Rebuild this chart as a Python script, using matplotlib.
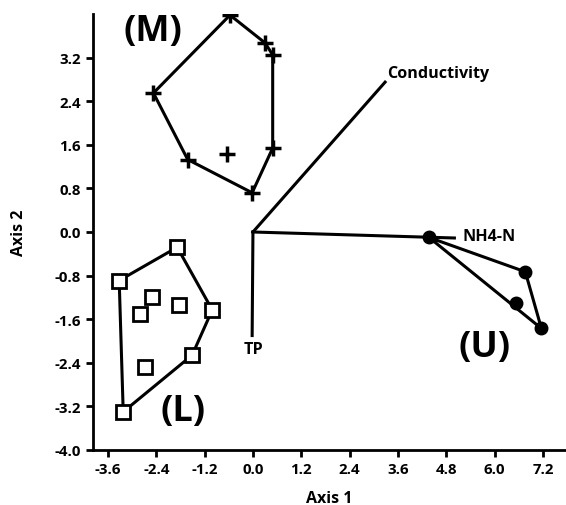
import matplotlib
matplotlib.use("Agg")
import matplotlib.pyplot as plt
import numpy as np

plt.rcParams['font.family'] = ['Open Sans', 'DejaVu Sans']

# Group M (plus markers)
m_x = [-0.57, 0.30, 0.49, 0.49, -0.02, -1.62, -2.47, -0.65]
m_y = [3.98, 3.47, 3.25, 1.54, 0.72, 1.33, 2.55, 1.43]
m_hull = [0, 1, 2, 3, 4, 5, 6, 0]

# Group L (open squares)
l_x = [-1.88, -1.01, -1.51, -3.22, -3.32, -2.50, -2.80, -1.84, -2.68]
l_y = [-0.28, -1.43, -2.26, -3.30, -0.89, -1.19, -1.50, -1.34, -2.47]
l_hull = [0, 1, 2, 3, 4, 0]

# Group U (filled circles)
u_x = [4.37, 6.76, 7.16, 6.54]
u_y = [-0.10, -0.73, -1.77, -1.31]
u_hull = [0, 1, 2, 0]

# Environmental vectors
vec_names = ["Conductivity", "NH4-N", "TP"]
vec_x = [3.28, 5.00, -0.02]
vec_y = [2.75, -0.11, -1.90]
vec_lx = [3.33, 5.19, 0.0]
vec_ly = [2.92, -0.08, -2.15]
vec_ha = ['left', 'left', 'center']

group_labels = ["(M)", "(L)", "(U)"]
group_lx = [-2.48, -1.74, 5.76]
group_ly = [3.68, -3.29, -2.11]

xticks = [-3.6, -2.4, -1.2, 0.0, 1.2, 2.4, 3.6, 4.8, 6.0, 7.2]
yticks = [-4.0, -3.2, -2.4, -1.6, -0.8, 0.0, 0.8, 1.6, 2.4, 3.2]

fig = plt.figure(figsize=(5.66, 5.06), dpi=100)
ax = fig.add_axes([93/566, 55/506, 1 - 93/566, (451-15)/506])

lw = 2.2
# hulls
ax.plot([m_x[i] for i in m_hull], [m_y[i] for i in m_hull], color='black', lw=lw, zorder=2)
ax.plot([l_x[i] for i in l_hull], [l_y[i] for i in l_hull], color='black', lw=lw, zorder=2)
ax.plot([u_x[i] for i in u_hull], [u_y[i] for i in u_hull], color='black', lw=lw, zorder=2)

# points
ax.plot(m_x, m_y, linestyle='none', marker='+', ms=11, mew=2.5, color='black', zorder=3)
ax.plot(l_x, l_y, linestyle='none', marker='s', ms=10, mew=2, mfc='white', mec='black', zorder=3)
ax.plot(u_x, u_y, linestyle='none', marker='o', ms=9, color='black', zorder=3)

# vectors
for vx, vy in zip(vec_x, vec_y):
    ax.plot([0, vx], [0, vy], color='black', lw=lw, zorder=1)

for name, x, y, ha in zip(vec_names, vec_lx, vec_ly, vec_ha):
    ax.text(x, y, name, fontsize=11.6, fontweight='bold', ha=ha, va='center')

for t, x, y in zip(group_labels, group_lx, group_ly):
    ax.text(x, y, t, fontsize=26, fontweight='bold', ha='center', va='center')

ax.set_xlim(-3.97, 7.77)
ax.set_ylim(-4.0, 4.0)
ax.set_xticks(xticks)
ax.set_yticks(yticks)
ax.set_xticklabels([f"{v:.1f}" for v in xticks], fontsize=10.8, fontweight='bold')
ax.set_yticklabels([f"{v:.1f}" for v in yticks], fontsize=10.8, fontweight='bold')
ax.tick_params(direction='out', length=5, width=2)
for s in ['top', 'right']:
    ax.spines[s].set_visible(False)
for s in ['left', 'bottom']:
    ax.spines[s].set_linewidth(2)

ax.set_xlabel("Axis 1", fontsize=11.5, fontweight='bold', labelpad=10)
ax.set_ylabel("Axis 2", fontsize=11.5, fontweight='bold', labelpad=20)

fig.savefig("out.png", dpi=100)
